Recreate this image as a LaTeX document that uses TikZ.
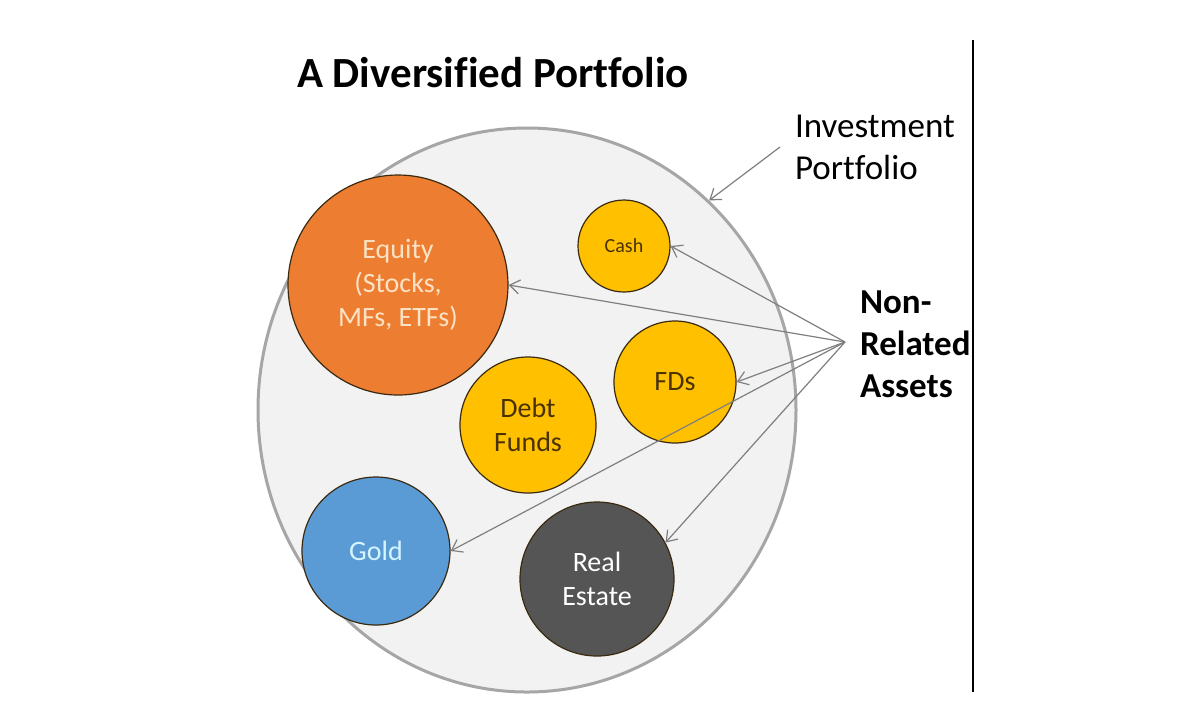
\documentclass[tikz,border=0pt]{standalone}
\usepackage{fontspec}
\setmainfont{Carlito}[Ligatures=CommonOff]
\usetikzlibrary{shapes.geometric,arrows.meta}
\definecolor{portfill}{HTML}{F2F2F2}
\definecolor{portline}{HTML}{A6A6A6}
\definecolor{eqfill}{HTML}{ED7D31}
\definecolor{eqtext}{HTML}{FBE2C4}
\definecolor{yel}{HTML}{FFC000}
\definecolor{yeltext}{HTML}{4A3200}
\definecolor{goldfill}{HTML}{5B9BD5}
\definecolor{goldtext}{HTML}{D4F4FF}
\definecolor{refill}{HTML}{555555}
\definecolor{arrowgrey}{HTML}{7F7F7F}
\definecolor{ringline}{HTML}{3A2A10}
\begin{document}
\begin{tikzpicture}[x=0.5pt,y=-0.5pt,
  asset/.style={circle,draw=ringline,line width=0.6pt,inner sep=0pt,align=center,
    font=\fontsize{14}{17}\selectfont},
  pointer/.style={draw=arrowgrey,line width=0.6pt,-{Straight Barb[length=5pt,width=7pt]}},
  label/.style={align=left,anchor=west,font=\fontsize{17.5}{21}\selectfont}]
\useasboundingbox (0,0) rectangle (1200,720);
\fill[white] (0,0) rectangle (1200,720);
% vertical rule
\draw[line width=0.8pt] (973,40) -- (973,692);
% title
\node[font=\fontsize{21.5}{26}\selectfont\bfseries] (title) at (493,73) {A Diversified Portfolio};
% portfolio
\node[ellipse,fill=portfill,draw=portline,line width=1.5pt,minimum width=269pt,minimum height=282pt,inner sep=0pt] (port) at (527,410) {};
% assets
\node[asset,fill=eqfill,text=eqtext,minimum size=110pt] (equity) at (398,285) {Equity\\(Stocks,\\MFs, ETFs)};
\node[asset,fill=yel,text=yeltext,minimum size=46pt,font=\fontsize{10}{12}\selectfont] (cash) at (624,246) {Cash};
\node[asset,fill=yel,text=yeltext,minimum size=61pt] (fds) at (675,382) {FDs};
\node[asset,fill=yel,text=yeltext,minimum size=68pt] (debt) at (528,425) {Debt\\Funds};
\node[asset,fill=goldfill,text=goldtext,minimum size=74pt] (gold) at (376,551) {Gold};
\node[asset,fill=refill,text=white,minimum size=77pt] (realestate) at (597,579) {Real\\Estate};
% labels
\node[label] (invest) at (788,147) {Investment\\Portfolio};
\node[label,font=\fontsize{17.5}{21}\selectfont\bfseries] (nonrel) at (853,344) {Non-\\Related\\Assets};
\coordinate (src) at (845,342);
\coordinate (invsrc) at (780,147);
% pointers
\draw[pointer] (invsrc) -- (port.49);
\draw[pointer] (src) -- (cash.east);
\draw[pointer] (src) -- (equity.east);
\draw[pointer] (src) -- (fds.east);
\draw[pointer] (src) -- (gold.east);
\draw[pointer] (src) -- (realestate.28);
\end{tikzpicture}
\end{document}
